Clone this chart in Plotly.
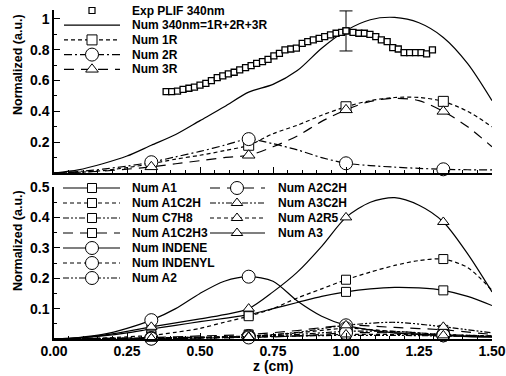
import plotly.graph_objects as go

# ---------------- data ----------------
z_fine = [0.0, 0.0833, 0.1667, 0.25, 0.3333, 0.4167, 0.5, 0.5833, 0.6667, 0.75,
          0.8333, 0.9167, 1.0, 1.0833, 1.1667, 1.25, 1.3333, 1.4167, 1.5]
z_coarse = [0.0, 0.1667, 0.3333, 0.5, 0.6667, 0.8333, 1.0, 1.1667, 1.3333, 1.5]
marker_z = [0.3333, 0.6667, 1.0, 1.3333]

exp_z = [0.384, 0.403, 0.423, 0.442, 0.462, 0.481, 0.500, 0.520, 0.539, 0.559,
         0.578, 0.597, 0.617, 0.636, 0.656, 0.675, 0.694, 0.714, 0.733, 0.753,
         0.772, 0.791, 0.811, 0.830, 0.850, 0.869, 0.888, 0.908, 0.927, 0.947,
         0.966, 0.985, 1.000, 1.024, 1.044, 1.063, 1.082, 1.102, 1.121, 1.141,
         1.160, 1.179, 1.199, 1.218, 1.238, 1.257, 1.276, 1.296]
exp_val = [0.528, 0.528, 0.532, 0.543, 0.550, 0.558, 0.571, 0.582, 0.600, 0.619,
           0.630, 0.643, 0.654, 0.669, 0.684, 0.697, 0.712, 0.723, 0.738, 0.760,
           0.777, 0.799, 0.805, 0.810, 0.842, 0.853, 0.864, 0.874, 0.885, 0.896,
           0.907, 0.913, 0.922, 0.913, 0.907, 0.907, 0.900, 0.885, 0.864, 0.853,
           0.814, 0.805, 0.781, 0.781, 0.781, 0.781, 0.773, 0.799]
exp_err_z = [1.0]
exp_err_val = [0.922]
exp_err = [0.13]

num_340nm = [0.0, 0.02, 0.06, 0.11, 0.18, 0.25, 0.34, 0.43, 0.525, 0.575,
             0.665, 0.81, 0.925, 0.995, 1.01, 0.975, 0.88, 0.71, 0.47]
num_1r = [0.0, 0.005, 0.015, 0.035, 0.06, 0.09, 0.115, 0.145, 0.18, 0.255,
          0.31, 0.375, 0.43, 0.47, 0.49, 0.49, 0.465, 0.40, 0.30]
num_2r = [0.0, 0.01, 0.025, 0.045, 0.07, 0.105, 0.14, 0.18, 0.22, 0.19,
          0.15, 0.10, 0.063, 0.048, 0.038, 0.03, 0.024, 0.021, 0.02]
num_3r = [0.0, 0.005, 0.012, 0.025, 0.04, 0.06, 0.08, 0.10, 0.115, 0.17,
          0.24, 0.335, 0.41, 0.465, 0.485, 0.47, 0.40, 0.30, 0.17]

num_a1 = [0.0, 0.003, 0.01, 0.02, 0.033, 0.045, 0.057, 0.068, 0.08, 0.10,
          0.12, 0.14, 0.155, 0.165, 0.17, 0.168, 0.16, 0.14, 0.11]
num_a1c2h = [0.0, 0.001, 0.003, 0.007, 0.012, 0.022, 0.035, 0.055, 0.075, 0.10,
             0.135, 0.165, 0.195, 0.22, 0.242, 0.258, 0.263, 0.235, 0.16]
num_a3 = [0.0, 0.004, 0.012, 0.025, 0.04, 0.053, 0.066, 0.08, 0.10, 0.155,
          0.22, 0.305, 0.40, 0.45, 0.465, 0.44, 0.385, 0.28, 0.155]
num_indene = [0.0, 0.005, 0.015, 0.035, 0.062, 0.10, 0.15, 0.19, 0.205, 0.19,
              0.125, 0.075, 0.045, 0.03, 0.02, 0.015, 0.012, 0.008, 0.006]
num_c7h8 = [0.0, 0.002, 0.004, 0.006, 0.008, 0.010, 0.012, 0.012, 0.010, 0.008]
num_a1c2h3 = [0.0, 0.002, 0.005, 0.010, 0.015, 0.028, 0.045, 0.038, 0.030, 0.015]
num_indenyl = [0.0, 0.001, 0.003, 0.006, 0.010, 0.020, 0.035, 0.025, 0.015, 0.010]
num_a2 = [0.0, 0.001, 0.002, 0.004, 0.008, 0.015, 0.025, 0.025, 0.015, 0.010]
num_a2c2h = [0.0, 0.0005, 0.001, 0.003, 0.005, 0.010, 0.020, 0.020, 0.012, 0.008]
num_a3c2h = [0.0, 0.0005, 0.001, 0.003, 0.008, 0.022, 0.045, 0.055, 0.040, 0.020]
num_a2r5 = [0.0, 0.001, 0.002, 0.004, 0.006, 0.010, 0.015, 0.015, 0.012, 0.008]

x_ticks = [0.0, 0.25, 0.5, 0.75, 1.0, 1.25, 1.5]
x_tick_labels = ["0.00", "0.25", "0.50", "0.75", "1.00", "1.25", "1.50"]
top_y_ticks = [0.2, 0.4, 0.6, 0.8, 1.0]
top_y_labels = ["0.2", "0.4", "0.6", "0.8", "1"]
bot_y_ticks = [0.1, 0.2, 0.3, 0.4, 0.5]
bot_y_labels = ["0.1", "0.2", "0.3", "0.4", "0.5"]

# ---------------- styles ----------------
FONT = "Liberation Sans"
SHORT = "4px,3px"
DASHDOT = "8px,3px,2px,3px"
LONG = "10px,7px"
DDD = "6px,2px,2px,2px,2px,2px"

top_series = [
    ("Num 340nm=1R+2R+3R", z_fine, num_340nm, "solid", None, 0),
    ("Num 1R", z_fine, num_1r, SHORT, "square", 10),
    ("Num 2R", z_fine, num_2r, DASHDOT, "circle", 13),
    ("Num 3R", z_fine, num_3r, LONG, "triangle-up", 11),
]
bottom_series = [
    ("Num A1", z_fine, num_a1, "solid", "square", 9),
    ("Num A1C2H", z_fine, num_a1c2h, SHORT, "square", 9),
    ("Num C7H8", z_coarse, num_c7h8, DDD, "square", 9),
    ("Num A1C2H3", z_coarse, num_a1c2h3, LONG, "square", 9),
    ("Num INDENE", z_fine, num_indene, "solid", "circle", 13),
    ("Num INDENYL", z_coarse, num_indenyl, SHORT, "circle", 13),
    ("Num A2", z_coarse, num_a2, DDD, "circle", 13),
    ("Num A2C2H", z_coarse, num_a2c2h, LONG, "circle", 13),
    ("Num A3C2H", z_coarse, num_a3c2h, DDD, "triangle-up", 10),
    ("Num A2R5", z_coarse, num_a2r5, SHORT, "triangle-up", 10),
    ("Num A3", z_fine, num_a3, "solid", "triangle-up", 10),
]

W, H = 506, 376
ML, MR, MT, MB = 54, 14, 10, 37
PX0, PX1 = ML, W - MR          # plot area in px
PY0, PY1 = MT, H - MB


def ypaper(py):
    return (PY1 - py) / (PY1 - PY0)


def xpaper(px):
    return (px - PX0) / (PX1 - PX0)


fig = go.Figure()

# lines first
for panel, series in (("y", top_series), ("y2", bottom_series)):
    xa = "x" if panel == "y" else "x2"
    for name, zz, vv, dash, sym, size in series:
        fig.add_trace(go.Scatter(
            x=zz, y=vv, mode="lines", xaxis=xa, yaxis=panel, name=name,
            line=dict(color="black", width=1.2, dash=dash, shape="spline", smoothing=0.8),
            showlegend=False, hoverinfo="skip"))

# markers on top
for panel, series in (("y", top_series), ("y2", bottom_series)):
    xa = "x" if panel == "y" else "x2"
    for name, zz, vv, dash, sym, size in series:
        if sym is None:
            continue
        idx = [i for i, z in enumerate(zz) if any(abs(z - m) < 1e-3 for m in marker_z)]
        fig.add_trace(go.Scatter(
            x=[zz[i] for i in idx], y=[vv[i] for i in idx], mode="markers",
            xaxis=xa, yaxis=panel, name=name, cliponaxis=False,
            marker=dict(symbol=sym, size=size, color="white",
                        line=dict(color="black", width=1)),
            showlegend=False, hoverinfo="skip"))

# experiment
fig.add_trace(go.Scatter(
    x=exp_z, y=exp_val, mode="markers", xaxis="x", yaxis="y", name="Exp PLIF 340nm",
    marker=dict(symbol="square", size=6, color="white", line=dict(color="black", width=1.3)),
    showlegend=False, hoverinfo="skip"))
fig.add_trace(go.Scatter(
    x=exp_err_z, y=exp_err_val, mode="markers", xaxis="x", yaxis="y", cliponaxis=False,
    marker=dict(symbol="square", size=6, color="white", line=dict(color="black", width=1.3)),
    error_y=dict(type="data", array=exp_err, color="black", thickness=1, width=6.5),
    showlegend=False, hoverinfo="skip"))

# ---------------- manual legend (overlay axis in px units) ----------------
annotations = []
style_by_name = {s[0]: s for s in top_series + bottom_series}


def legend_entry(name, row_y, x0, x1, xm, xt, dash, sym, size, line=True):
    if line:
        fig.add_trace(go.Scatter(x=[x0, x1], y=[row_y, row_y], mode="lines", xaxis="x3", yaxis="y3",
                                 line=dict(color="black", width=1.2, dash=dash),
                                 showlegend=False, hoverinfo="skip", cliponaxis=False))
    if sym is not None:
        fig.add_trace(go.Scatter(x=[xm], y=[row_y], mode="markers", xaxis="x3", yaxis="y3",
                                 marker=dict(symbol=sym, size=size, color="white",
                                             line=dict(color="black", width=1.2 if size < 8 else 1)),
                                 showlegend=False, hoverinfo="skip", cliponaxis=False))
    annotations.append(dict(x=xt, y=row_y, xref="x3", yref="y3", text=name, showarrow=False,
                            xanchor="left", yanchor="middle",
                            font=dict(family=FONT, size=12, color="black", weight="bold")))


top_rows = ["Exp PLIF 340nm", "Num 340nm=1R+2R+3R", "Num 1R", "Num 2R", "Num 3R"]
for i, nm in enumerate(top_rows):
    ry = 10.5 + 14.7 * i
    if nm == "Exp PLIF 340nm":
        legend_entry(nm, ry, 64, 120, 92, 130, "solid", "square", 6, line=False)
    else:
        s = style_by_name[nm]
        legend_entry(nm, ry, 64, 120, 92, 130, s[3], s[4], s[5])

col1 = ["Num A1", "Num A1C2H", "Num C7H8", "Num A1C2H3", "Num INDENE", "Num INDENYL", "Num A2"]
col2 = ["Num A2C2H", "Num A3C2H", "Num A2R5", "Num A3"]
for i, nm in enumerate(col1):
    s = style_by_name[nm]
    legend_entry(nm, 188 + 15 * i, 63, 120, 92, 130, s[3], s[4], s[5])
for i, nm in enumerate(col2):
    s = style_by_name[nm]
    legend_entry(nm, 188 + 15 * i, 210, 265, 237, 276, s[3], s[4], s[5])

# axis titles
annotations.append(dict(x=xpaper(18), y=ypaper(65), xref="paper", yref="paper",
                        text="Normalized (a.u.)", textangle=-90, showarrow=False,
                        xanchor="center", yanchor="middle",
                        font=dict(family=FONT, size=12.5, color="black", weight="bold")))
annotations.append(dict(x=xpaper(18), y=ypaper(241), xref="paper", yref="paper",
                        text="Normalized (a.u.)", textangle=-90, showarrow=False,
                        xanchor="center", yanchor="middle",
                        font=dict(family=FONT, size=12.5, color="black", weight="bold")))
annotations.append(dict(x=xpaper(273), y=ypaper(366), xref="paper", yref="paper",
                        text="z (cm)", showarrow=False, xanchor="center", yanchor="middle",
                        font=dict(family=FONT, size=14, color="black", weight="bold")))

tickfont = dict(family=FONT, size=14, color="black", weight="bold")
common_x = dict(range=[0, 1.5], tickvals=x_ticks, ticks="inside", ticklen=6, tickwidth=1,
                tickcolor="black", showline=True, linecolor="black", linewidth=1.5,
                showgrid=False, zeroline=False, automargin=False,
                minor=dict(dtick=0.05, ticks="inside", ticklen=3, tickcolor="black", showgrid=False))

fig.update_layout(
    width=W, height=H,
    margin=dict(l=ML, r=MR, t=MT, b=MB, pad=0, autoexpand=False),
    paper_bgcolor="white", plot_bgcolor="rgba(0,0,0,0)",
    showlegend=False,
    font=dict(family=FONT, color="black"),
    xaxis=dict(domain=[0, 1], anchor="y", showticklabels=False, **common_x),
    yaxis=dict(domain=[ypaper(173), 1], anchor="x", range=[0, 1.058], automargin=False,
               tickvals=top_y_ticks, ticktext=top_y_labels, tickfont=tickfont,
               ticks="inside", ticklen=6, tickcolor="black", showline=True, linecolor="black",
               linewidth=1.5, showgrid=False, zeroline=False,
               minor=dict(dtick=0.1, ticks="inside", ticklen=3, tickcolor="black", showgrid=False)),
    xaxis2=dict(domain=[0, 1], anchor="y2", ticktext=x_tick_labels, tickfont=tickfont,
                ticklabelstandoff=-2, **common_x),
    yaxis2=dict(domain=[0, ypaper(187)], anchor="x2", range=[0, 0.5], automargin=False,
                tickvals=bot_y_ticks, ticktext=bot_y_labels, tickfont=tickfont,
                ticks="inside", ticklen=6, tickcolor="black", showline=True, linecolor="black",
                linewidth=1.5, showgrid=False, zeroline=False,
                minor=dict(dtick=0.05, ticks="inside", ticklen=3, tickcolor="black", showgrid=False)),
    xaxis3=dict(domain=[0, 1], anchor="y3", range=[PX0, PX1], visible=False, fixedrange=True,
                automargin=False),
    yaxis3=dict(domain=[0, 1], anchor="x3", range=[PY1, PY0], visible=False, fixedrange=True,
                automargin=False),
    annotations=annotations,
)

fig.write_html("out.html")
